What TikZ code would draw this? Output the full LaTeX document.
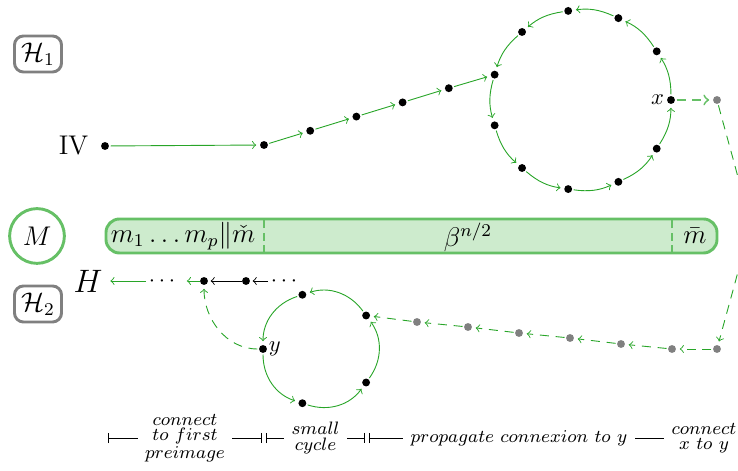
\documentclass[tikz,border=0pt]{standalone}
\usepackage{xcolor}
\usepackage{tikz}
\usetikzlibrary{arrows.meta, calc}
\definecolor{cycG}{RGB}{ 40,165, 40}
\definecolor{barG}{RGB}{102,192,102}
\definecolor{barF}{RGB}{205,235,205}
\definecolor{hbox}{RGB}{128,128,128}
\definecolor{ghost}{RGB}{128,128,128}

\begin{document}
\begin{tikzpicture}[
  x=0.444pt, y=0.444pt, >=to,
  dot/.style={circle, fill=black, inner sep=0pt, minimum size=3.5pt},
  gdot/.style={dot, fill=ghost},
  hset/.style={draw=hbox, line width=1.3pt, rounded corners=4pt,
    font=\large, inner sep=3pt},
  cyc/.style={->, cycG, shorten >=1.5pt, shorten <=0.5pt},
  back/.style={->, cycG, dash pattern=on 4pt off 3pt,
    shorten >=1.5pt, shorten <=0.5pt},
  span/.style={{Bar[width=4.5pt]}-{Bar[width=4.5pt]},
    shorten <=1pt, shorten >=1pt},
  note/.style={fill=white, align=center,
    font={\fontsize{8}{6.8}\selectfont}}
]
\useasboundingbox (0,0) rectangle (738,471);

\node[hset] (H1) at (38,417) {$\mathcal{H}_1$};
\node[circle, draw=barG, line width=1.3pt, minimum size=22pt,
  font=\large] (M) at (37,235) {$M$};
\node[hset] (H2) at (38,167) {$\mathcal{H}_2$};

\coordinate (barSW) at (106,218);
\coordinate (barNE) at (717,252);
\draw[barG, fill=barF, line width=1.3pt, rounded corners=6pt]
  (barSW) rectangle (barNE);
\draw[barG, line width=1.3pt, dash pattern=on 3.5pt off 2pt]
  (264,218) -- (264,252) (672,218) -- (672,252);
\node[font=\large, inner sep=1pt] (mpre) at (183,235) {$m_1\ldots m_p\|\check{m}$};
\node[font=\large] (mbeta) at (468,234) {$\beta^{n/2}$};
\node[font=\large, inner sep=1pt] (mbar) at (695,235) {$\bar{m}$};

\node[dot, label={[label distance=2pt, font=\large]left:IV}] (iv) at (105,325) {};
\foreach \i in {1,...,5}
  \node[dot] (c\i) at ({264+(\i-1)*46.2},{326+(\i-1)*14.2}) {};
\coordinate (bc) at (581,371);
\foreach \i in {0,...,10}
  \node[dot] (b\i) at ($(bc)+({\i*360/11}:90)$) {};
\node[anchor=east, inner sep=1pt] (xlab) at (b0.west) {$x$};

\draw[cyc] (iv) -- (c1);
\foreach \i [count=\j from 2] in {1,...,4}
  \draw[cyc] (c\i) -- (c\j);
\draw[cyc] (c5) -- (b5);
\foreach \i in {0,...,10}{
  \pgfmathtruncatemacro\j{mod(\i+1,11)}
  \draw[cyc] (b\i) to[bend right=16] (b\j);
}

\node[gdot] (g0) at (717,371) {};
\foreach \i/\px/\py in {1/717/122, 2/672/122, 3/621/127, 4/570/133,
    5/519/138, 6/468/144, 7/417/149}
  \node[gdot] (g\i) at (\px,\py) {};

\coordinate (sc) at (320,122);
\foreach \i in {0,...,4}
  \node[dot] (s\i) at ($(sc)+({180+\i*72}:57)$) {};
\node[anchor=west, inner sep=0.5pt] (ylab) at (s0.east) {$y$};
\foreach \i in {0,...,4}{
  \pgfmathtruncatemacro\j{mod(\i+1,5)}
  \draw[cyc] (s\i) to[bend right=36] (s\j);
}

\draw[back, barG, line width=0.8pt] (b0) -- (g0);
\draw[back] (g0) to[out=-75, in=75, looseness=1.5] (g1);
\foreach \i [count=\j from 2] in {1,...,6}
  \draw[back] (g\i) -- (g\j);
\draw[back] (g7) -- (s3);

\node[font=\Large] (H) at (88,190) {$H$};
\node[inner sep=1pt, text height=5pt, text depth=0pt] (dl) at (162,190) {$\cdots$};
\node[dot] (a) at (204,190) {};
\node[dot] (b) at (246,190) {};
\node[inner sep=1pt, text height=5pt, text depth=0pt] (dr) at (284,190) {$\cdots$};
\draw[->, cycG] (dl) -- (H);
\draw[->, cycG, shorten >=4pt] (a) -- (dl);
\draw[->, shorten >=1pt] (b) -- (a);
\draw[->, shorten >=1pt] (dr) -- (b);
\draw[back] (s0) to[out=180, in=-90] (a);

\foreach \i/\px in {0/106, 1/264, 2/367, 3/671, 4/737}
  \coordinate (t\i) at (\px,33);
\draw[span] (t0) -- node[note] (n1) {$connect$\\$to~first$\\$preimage$} (t1);
\draw[span] (t1) -- node[note] (n2) {$small$\\$cycle$} (t2);
\draw[span] (t2) -- node[note] (n3) {$propagate~connexion~to~y$} (t3);
\draw[span] (t3) -- node[note] (n4) {$connect$\\$x~to~y$} (t4);
\end{tikzpicture}
\end{document}
